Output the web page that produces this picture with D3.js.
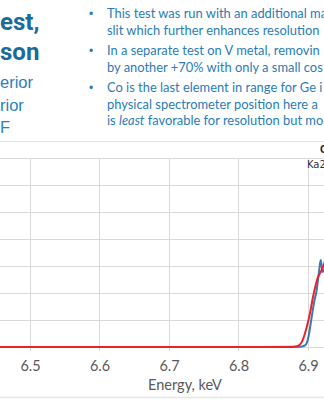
<!DOCTYPE html>
<html>
<head>
<meta charset="utf-8">
<script src="https://cdn.jsdelivr.net/npm/d3@7"></script>
<style>
  html, body { margin: 0; padding: 0; background: #fff; overflow: hidden; }
  svg { display: block; }
</style>
</head>
<body>
<svg id="slide" width="324" height="400"></svg>
<script>
// Slide heading fragments and subtitle lines
const titleLines = ["est,", "son"];
const subtitleLines = ["erior", "rior", "F"];

// Bullet notes: each line is a list of [text, italic] runs
const bullets = [
  [[["This test was run with an additional ma", false]],
   [["slit which further enhances resolution", false]]],
  [[["In a separate test on V metal, removin", false]],
   [["by another +70% with only a small cos", false]]],
  [[["Co is the last element in range for Ge i", false]],
   [["physical spectrometer position here a", false]],
   [["is ", false], ["least", true], [" favorable for resolution but mo", false]]]
];

// Axis ticks
const xTicks = [6.5, 6.6, 6.7, 6.8, 6.9];
const yGrid = [0, 1, 2, 3, 4, 5, 6, 7];

// Spectrum series: energy (keV) and intensity
const blueEnergy = [6.45, 6.6, 6.8, 6.885, 6.8914, 6.8957, 6.9, 6.9053, 6.9086, 6.9125, 6.9158, 6.9183, 6.9197, 6.9211, 6.923, 6.926];
const blueCounts = [0, 0, 0, 0.01, 0.02, 0.06, 0.3, 1.11, 1.63, 2.11, 2.78, 3.22, 3.0, 2.78, 2.85, 3.0];
const redEnergy = [6.45, 6.6, 6.8, 6.874, 6.8827, 6.887, 6.8914, 6.8982, 6.9029, 6.9072, 6.9144, 6.9183, 6.9211, 6.926];
const redCounts = [0, 0, 0, 0, 0.02, 0.06, 0.2, 0.74, 1.26, 1.85, 2.59, 2.78, 2.93, 3.3];

const peakLabel = "Ka2";
const peakLabelEnergy = 6.8985;
const xTitle = "Energy, keV";

const svg = d3.select("#slide");

// ---- heading ----
const titleColor = "#1b6a9c";
const subColor = "#2a80bd";
svg.selectAll("text.title").data(titleLines).join("text")
  .attr("class", "title")
  .attr("x", 0).attr("y", (d, i) => 30 + i * 30)
  .attr("font-family", "Roboto, sans-serif")
  .attr("font-weight", "bold").attr("font-size", 24)
  .attr("fill", titleColor).text(d => d);

svg.selectAll("text.sub").data(subtitleLines).join("text")
  .attr("class", "sub")
  .attr("x", 0).attr("y", (d, i) => 88 + i * 22.5)
  .attr("font-family", "Liberation Sans, Arial, sans-serif")
  .attr("font-size", 16.5)
  .attr("fill", subColor).text(d => d);

// ---- bullet list ----
const bulletColor = "#2a7cb6";
let yPos = 18;
bullets.forEach(lines => {
  svg.append("text").attr("x", 89).attr("y", yPos)
    .attr("font-family", "Liberation Sans, Arial, sans-serif")
    .attr("font-size", 12).attr("fill", bulletColor).text("•");
  lines.forEach((runs, j) => {
    const t = svg.append("text").attr("x", 107).attr("y", yPos + j * 16.5)
      .attr("font-family", "Lato, sans-serif")
      .attr("font-size", 12.9).attr("fill", bulletColor);
    t.selectAll("tspan").data(runs).join("tspan")
      .attr("font-style", d => d[1] ? "italic" : "normal")
      .text(d => d[0]);
  });
  yPos += lines.length * 16.5 + 4;
});

// ---- chart ----
const x = d3.scaleLinear().domain([6.5, 6.9]).range([30, 308]);
const y = d3.scaleLinear().domain([0, 7]).range([347, 158]);

// frame lines
svg.append("line").attr("x1", 0).attr("x2", 324).attr("y1", 141.5).attr("y2", 141.5)
  .attr("stroke", "#e3e3e3").attr("stroke-width", 1);
svg.append("line").attr("x1", 0).attr("x2", 324).attr("y1", 397.5).attr("y2", 397.5)
  .attr("stroke", "#e6e6e6").attr("stroke-width", 1.5);

// gridlines
const grid = svg.append("g");
grid.selectAll("line.h").data(yGrid).join("line")
  .attr("class", "h")
  .attr("x1", 0).attr("x2", 324)
  .attr("y1", d => Math.round(y(d)) + 0.5).attr("y2", d => Math.round(y(d)) + 0.5)
  .attr("stroke", "#d9d9d9").attr("stroke-width", 1);
grid.selectAll("line.v").data(xTicks).join("line")
  .attr("class", "v")
  .attr("x1", d => Math.round(x(d)) + 0.5).attr("x2", d => Math.round(x(d)) + 0.5)
  .attr("y1", y(7)).attr("y2", y(0) + 4)
  .attr("stroke", "#d9d9d9").attr("stroke-width", 1);

// x axis tick labels
const xAxis = d3.axisBottom(x).tickValues(xTicks).tickSize(0).tickPadding(0)
  .tickFormat(d3.format(".1f"));
const gx = svg.append("g").attr("transform", "translate(0,361)").call(xAxis);
gx.select(".domain").remove();
gx.selectAll("text")
  .attr("font-family", "Lato, sans-serif").attr("font-size", 14.5)
  .attr("fill", "#595959");

svg.append("text").attr("x", 185).attr("y", 390)
  .attr("text-anchor", "middle")
  .attr("font-family", "Lato, sans-serif").attr("font-size", 14.5)
  .attr("fill", "#595959").text(xTitle);

// spectra
const line = d3.line().x(d => x(d[0])).y(d => y(d[1])).curve(d3.curveMonotoneX);
const blue = d3.zip(blueEnergy, blueCounts);
const red = d3.zip(redEnergy, redCounts);
svg.append("path").datum(blue).attr("d", line)
  .attr("fill", "none").attr("stroke", "#3d78b0").attr("stroke-width", 2);
svg.append("path").datum(red).attr("d", line)
  .attr("fill", "none").attr("stroke", "#e8232e").attr("stroke-width", 2);

// peak labels
svg.append("text").attr("x", x(peakLabelEnergy)).attr("y", 168)
  .attr("font-family", "DejaVu Sans, sans-serif").attr("font-size", 10)
  .attr("fill", "#333").text(peakLabel);
svg.append("text").attr("x", 320).attr("y", 153)
  .attr("font-family", "Liberation Sans, Arial, sans-serif").attr("font-size", 11)
  .attr("font-weight", "bold").attr("fill", "#222").text("Co");
</script>
</body>
</html>
